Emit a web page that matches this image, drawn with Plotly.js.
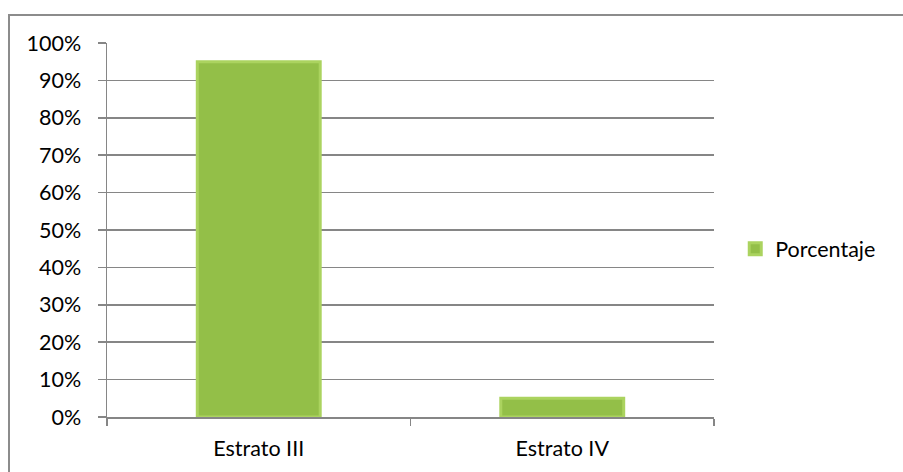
<!DOCTYPE html>
<html>
<head>
<meta charset="utf-8">
<script src="https://cdn.plot.ly/plotly-3.0.1.min.js"></script>
<style>
html,body{margin:0;padding:0;background:#fff;overflow:hidden;}
#wrap{position:relative;width:903px;height:472px;}
#chart{position:absolute;left:0;top:0;width:903px;height:472px;}
#frame{position:absolute;left:8px;top:14px;width:900px;height:470px;border:2px solid #8c8c8c;box-sizing:border-box;pointer-events:none;}
</style>
</head>
<body>
<div id="wrap"><div id="chart"></div><div id="frame"></div></div>
<script>
var categories = ["Estrato III", "Estrato IV"];
var porcentaje = [0.95, 0.05];
var seriesName = "Porcentaje";
var yTickVals = [0,0.1,0.2,0.3,0.4,0.5,0.6,0.7,0.8,0.9,1.0];
var yTickText = ["0%","10%","20%","30%","40%","50%","60%","70%","80%","90%","100%"];

var font = "Lato, 'Open Sans', sans-serif";
var trace = {
  type: "bar",
  x: categories,
  y: porcentaje,
  name: seriesName,
  width: 0.405,
  marker: {color: "#93bf48", line: {color: "#abd35f", width: 3}},
  showlegend: true,
  hoverinfo: "none"
};
var layout = {
  width: 903, height: 472,
  margin: {l: 107, r: 189, t: 43, b: 55},
  paper_bgcolor: "#fff", plot_bgcolor: "#fff",
  font: {family: font, size: 21.5, color: "#000"},
  xaxis: {
    type: "category",
    showline: true, linecolor: "#868686", linewidth: 1.5,
    ticks: "outside", tickson: "boundaries", ticklen: 7, tickcolor: "#868686", tickwidth: 1.5,
    showgrid: false, zeroline: false,
    tickfont: {family: font, size: 21.5, color: "#000"},
    ticklabelstandoff: 12
  },
  yaxis: {
    range: [0, 1], tickvals: yTickVals, ticktext: yTickText,
    showline: true, linecolor: "#868686", linewidth: 1.5,
    ticks: "outside", ticklen: 8, tickcolor: "#868686", tickwidth: 1.5,
    showgrid: true, gridcolor: "#868686", gridwidth: 1.5,
    zeroline: false,
    tickfont: {family: font, size: 21.5, color: "#000"},
    ticklabelstandoff: 12
  },
  legend: {
    x: 1.035, xanchor: "left", y: 0.45, yanchor: "middle",
    font: {family: font, size: 21.5, color: "#000"},
    itemwidth: 30, bgcolor: "rgba(0,0,0,0)"
  },
  showlegend: true
};
Plotly.newPlot("chart", [trace], layout, {displayModeBar: false, staticPlot: true});
</script>
</body>
</html>
